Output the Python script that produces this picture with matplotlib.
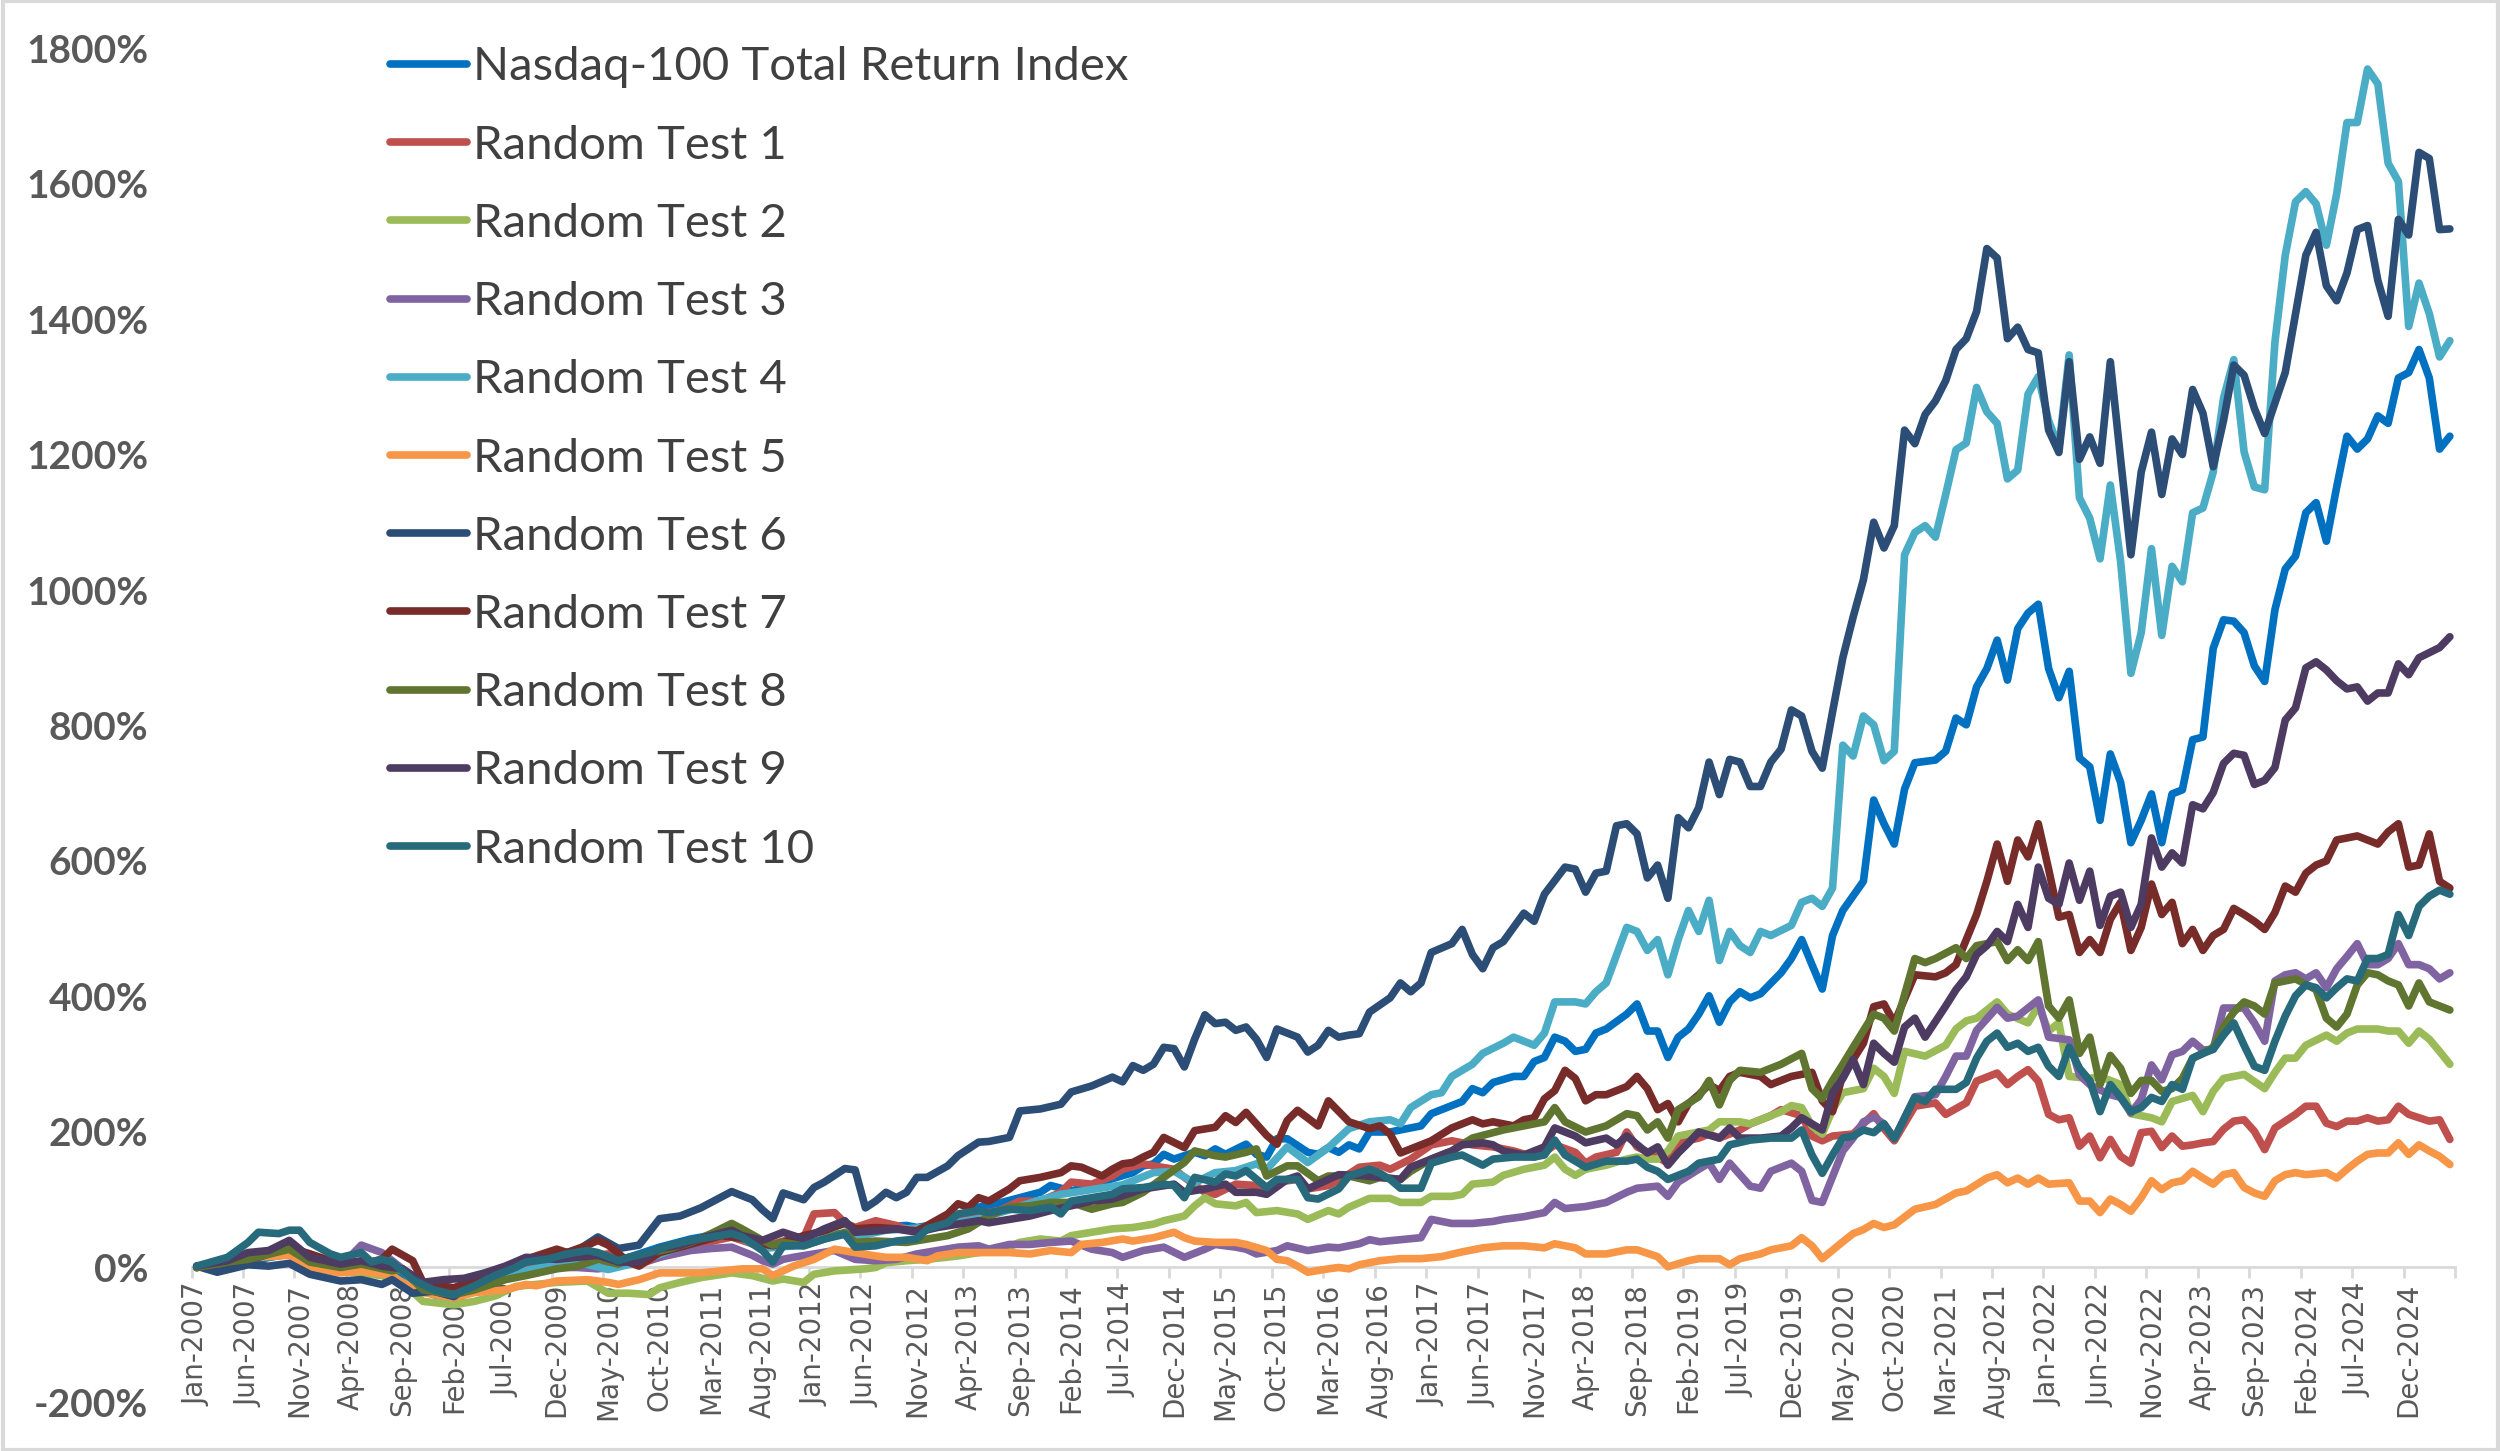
import numpy as np
import pandas as pd
import matplotlib
matplotlib.use("Agg")
import matplotlib.pyplot as plt
from matplotlib.patches import Rectangle

# month index = months since Jan-2007, value = cumulative return in %
nasdaq = [(0, 0), (3, 5), (6, 12), (9, 20), (10, 22), (12, 8), (14, 0), (17, 5), (19, -2), (21, -25), (23, -40),
          (25, -45), (27, -30), (30, -12), (33, 0), (35, 12), (38, 22), (40, 10), (42, 15), (45, 30), (48, 42),
          (51, 50), (54, 45), (56, 30), (59, 40), (61, 55), (63, 65), (65, 50), (67, 60), (69, 62), (70, 59),
          (72, 64), (74, 74), (76, 89), (78, 95), (80, 103), (82, 111), (83, 121), (85, 113), (87, 121), (89, 131),
          (91, 140), (92, 150), (93, 153), (94, 167), (95, 160), (97, 170), (98, 165), (99, 175), (100, 167),
          (102, 182), (103, 167), (104, 163), (105, 190), (106, 190), (108, 170), (109, 167), (110, 177), (111, 170),
          (112, 181), (113, 175), (114, 200), (116, 200), (117, 203), (119, 209), (120, 227), (122, 239), (123, 245),
          (124, 264), (125, 258), (126, 273), (128, 282), (129, 282), (130, 304), (131, 310), (132, 340), (133, 334),
          (134, 319), (135, 322), (136, 346), (137, 352), (139, 374), (140, 389), (141, 349), (142, 349), (143, 310),
          (144, 340), (145, 352), (146, 374), (147, 401), (148, 362), (149, 392), (150, 407), (151, 398), (152, 404),
          (154, 435), (155, 456), (156, 484), (157, 447), (158, 411), (159, 490), (160, 527), (162, 570), (163, 690),
          (164, 655), (165, 625), (166, 706), (167, 745), (169, 749), (170, 762), (171, 811), (172, 801), (173, 857),
          (174, 884), (175, 926), (176, 867), (177, 943), (178, 966), (179, 979), (180, 884), (181, 841), (182, 880),
          (183, 752), (184, 739), (185, 660), (186, 758), (187, 716), (188, 627), (189, 660), (190, 699), (191, 627),
          (192, 699), (193, 705), (194, 779), (195, 783), (196, 914), (197, 956), (198, 954), (199, 937), (200, 888),
          (201, 865), (202, 971), (203, 1031), (204, 1050), (205, 1114), (206, 1129), (207, 1072), (208, 1152),
          (209, 1227), (210, 1208), (211, 1223), (212, 1257), (213, 1246), (214, 1313), (215, 1321), (216, 1355),
          (217, 1313), (218, 1208), (219, 1227)]

rt1 = [(0, 0), (3, 10), (6, 15), (9, 25), (11, 15), (14, 5), (17, 8), (20, -2), (22, -30), (25, -35), (28, -20),
       (31, -5), (34, 5), (37, 15), (40, 20), (43, 5), (46, 20), (49, 35), (52, 45), (55, 30), (57, 39), (59, 44),
       (60, 79), (62, 81), (63, 66), (64, 59), (66, 69), (68, 62), (69, 57), (71, 59), (72, 66), (74, 76), (76, 79),
       (78, 84), (80, 98), (82, 98), (84, 111), (85, 126), (87, 123), (89, 135), (90, 145), (92, 153), (93, 150),
       (95, 145), (96, 133), (98, 111), (99, 108), (101, 123), (103, 121), (104, 113), (105, 126), (107, 130),
       (108, 116), (110, 121), (111, 128), (113, 148), (115, 151), (116, 145), (118, 160), (120, 181), (122, 187),
       (124, 181), (126, 178), (128, 172), (130, 163), (131, 170), (132, 181), (134, 170), (135, 154), (136, 163),
       (138, 170), (139, 200), (140, 178), (142, 163), (143, 154), (144, 184), (146, 191), (147, 197), (148, 191),
       (150, 203), (151, 212), (153, 224), (154, 233), (156, 224), (157, 194), (158, 187), (159, 194), (161, 197),
       (162, 212), (163, 227), (164, 205), (165, 187), (167, 238), (169, 243), (170, 226), (172, 243), (173, 275),
       (175, 287), (176, 270), (177, 282), (178, 292), (179, 275), (180, 226), (181, 218), (182, 221), (183, 179),
       (184, 194), (185, 162), (186, 189), (187, 164), (188, 154), (189, 199), (190, 201), (191, 177), (192, 194),
       (193, 179), (194, 181), (195, 184), (196, 186), (197, 204), (198, 216), (199, 218), (200, 201), (201, 174),
       (202, 206), (203, 216), (204, 226), (205, 238), (206, 238), (207, 213), (208, 208), (209, 216), (210, 216),
       (211, 221), (212, 216), (213, 218), (214, 238), (215, 226), (216, 221), (217, 216), (218, 218), (219, 189)]

rt2 = [(0, 0), (3, 12), (5, 15), (9, 25), (11, 8), (14, -5), (18, -12), (20, -22), (22, -50), (25, -55), (27, -50),
       (29, -42), (31, -28), (33, -25), (35, -22), (38, -20), (40, -38), (42, -38), (44, -40), (45, -30), (47, -22),
       (49, -15), (52, -8), (54, -12), (56, -20), (57, -17), (59, -22), (60, -10), (62, -5), (65, -2), (66, 0),
       (67, 7), (69, 10), (71, 12), (74, 17), (76, 22), (78, 25), (80, 37), (82, 42), (84, 39), (85, 47), (87, 52),
       (89, 57), (91, 59), (93, 64), (94, 69), (96, 76), (97, 91), (98, 103), (99, 94), (101, 91), (102, 96),
       (103, 81), (105, 84), (107, 79), (108, 71), (110, 84), (111, 79), (112, 89), (114, 102), (116, 102),
       (117, 96), (119, 96), (120, 105), (122, 105), (123, 108), (124, 123), (126, 126), (127, 136), (129, 145),
       (130, 148), (131, 151), (132, 163), (133, 145), (134, 136), (135, 145), (137, 151), (139, 160), (140, 163),
       (141, 160), (142, 160), (143, 172), (144, 194), (146, 200), (147, 203), (148, 215), (150, 215), (151, 212),
       (152, 218), (154, 230), (155, 239), (156, 236), (157, 209), (158, 197), (159, 233), (160, 258), (162, 264),
       (163, 294), (164, 282), (165, 257), (166, 319), (168, 312), (170, 328), (171, 352), (172, 364), (173, 368),
       (175, 392), (176, 374), (178, 361), (179, 386), (180, 349), (181, 361), (182, 282), (184, 279), (185, 282),
       (187, 270), (188, 227), (190, 221), (191, 215), (192, 245), (194, 254), (195, 230), (196, 260), (197, 279),
       (199, 285), (201, 264), (202, 288), (203, 309), (204, 309), (205, 328), (207, 343), (208, 334), (209, 346),
       (210, 352), (212, 352), (213, 349), (214, 349), (215, 331), (216, 349), (217, 337), (218, 319), (219, 300)]

rt3 = [(0, 0), (3, 8), (5, 15), (9, 27), (11, 20), (14, 2), (16, 33), (18, 22), (20, -2), (22, -22), (25, -33),
       (27, -18), (30, -8), (32, -5), (35, 0), (37, 0), (39, -2), (41, 2), (43, 8), (45, 15), (48, 25), (50, 28),
       (52, 30), (54, 18), (55, 10), (56, 5), (57, 12), (58, 15), (60, 20), (62, 25), (64, 12), (66, 10), (68, 12),
       (70, 20), (72, 25), (74, 30), (76, 32), (77, 27), (79, 34), (81, 34), (83, 37), (85, 39), (87, 27), (89, 22),
       (90, 15), (92, 25), (94, 30), (96, 15), (98, 27), (99, 34), (101, 30), (102, 27), (103, 20), (105, 25),
       (106, 32), (108, 25), (110, 30), (111, 29), (113, 35), (114, 41), (115, 38), (117, 41), (119, 44), (120, 71),
       (122, 65), (124, 65), (126, 68), (127, 71), (129, 75), (131, 81), (132, 96), (133, 87), (135, 90), (137, 96),
       (139, 111), (140, 117), (142, 120), (143, 105), (144, 126), (146, 145), (147, 154), (148, 130), (149, 154),
       (151, 120), (152, 117), (153, 142), (155, 154), (156, 142), (157, 99), (158, 96), (160, 172), (161, 191),
       (162, 215), (163, 222), (164, 212), (165, 190), (167, 252), (169, 255), (170, 282), (171, 312), (172, 312),
       (173, 350), (175, 384), (176, 368), (177, 371), (179, 395), (180, 340), (181, 338), (182, 336), (183, 284),
       (184, 270), (185, 262), (186, 255), (187, 251), (188, 228), (189, 248), (190, 299), (191, 277), (192, 314),
       (193, 319), (194, 334), (195, 321), (196, 322), (197, 383), (198, 383), (199, 383), (200, 361), (201, 334),
       (202, 423), (203, 432), (204, 435), (205, 426), (206, 435), (207, 413), (208, 441), (209, 459), (210, 478),
       (211, 447), (212, 447), (213, 456), (214, 478), (215, 447), (216, 447), (217, 441), (218, 426), (219, 435)]

rt4 = [(0, 0), (3, 8), (6, 20), (9, 28), (11, 12), (14, 3), (17, 5), (20, -5), (22, -35), (25, -45), (28, -25),
       (31, -8), (34, 2), (37, 8), (40, -3), (43, 8), (46, 25), (49, 40), (52, 50), (55, 28), (58, 32), (61, 55),
       (64, 45), (67, 55), (70, 58), (73, 64), (76, 72), (79, 85), (81, 95), (84, 108), (87, 115), (90, 122),
       (93, 140), (95, 142), (97, 125), (99, 140), (101, 143), (103, 153), (104, 145), (106, 178), (108, 155),
       (110, 177), (112, 205), (114, 215), (116, 218), (117, 212), (118, 236), (120, 255), (121, 258), (122, 282),
       (124, 300), (125, 316), (127, 331), (128, 340), (130, 328), (131, 346), (132, 392), (134, 392), (135, 389),
       (136, 407), (137, 420), (139, 502), (140, 496), (141, 468), (142, 484), (143, 432), (144, 484), (145, 527),
       (146, 496), (147, 542), (148, 453), (149, 496), (150, 475), (151, 465), (152, 496), (153, 490), (155, 505),
       (156, 539), (157, 545), (158, 533), (159, 560), (160, 771), (161, 755), (162, 814), (163, 801), (164, 748),
       (165, 762), (166, 1052), (167, 1085), (168, 1095), (169, 1078), (170, 1141), (171, 1207), (172, 1217),
       (173, 1299), (174, 1263), (175, 1246), (176, 1164), (177, 1177), (178, 1289), (179, 1315), (180, 1250),
       (181, 1210), (182, 1347), (183, 1136), (184, 1106), (185, 1046), (186, 1155), (187, 1042), (188, 877),
       (189, 937), (190, 1061), (191, 933), (192, 1035), (193, 1012), (194, 1114), (195, 1121), (196, 1174),
       (197, 1283), (198, 1340), (199, 1204), (200, 1152), (201, 1148), (202, 1366), (203, 1494), (204, 1573),
       (205, 1588), (206, 1570), (207, 1509), (208, 1585), (209, 1690), (210, 1690), (211, 1769), (212, 1747),
       (213, 1630), (214, 1603), (215, 1389), (216, 1453), (217, 1408), (218, 1344), (219, 1368)]

rt5 = [(0, 0), (2, 8), (6, 15), (9, 18), (11, 0), (14, -8), (16, -5), (19, -12), (20, -22), (22, -37), (25, -45),
       (27, -37), (30, -33), (32, -25), (33, -27), (35, -20), (38, -18), (40, -22), (41, -25), (43, -18), (45, -8),
       (47, -8), (49, -8), (51, -5), (53, -2), (55, -2), (56, -12), (58, 2), (60, 12), (62, 27), (64, 22), (66, 17),
       (67, 15), (69, 15), (71, 10), (72, 17), (74, 22), (77, 22), (79, 22), (81, 20), (83, 25), (85, 22), (86, 34),
       (88, 37), (90, 42), (91, 39), (93, 44), (95, 52), (96, 44), (97, 39), (99, 37), (101, 37), (102, 34),
       (104, 25), (105, 12), (106, 10), (107, 2), (108, -7), (110, -2), (111, 0), (112, -2), (113, 4), (115, 10),
       (117, 13), (119, 13), (121, 16), (123, 23), (125, 29), (127, 32), (129, 32), (131, 29), (132, 35), (134, 29),
       (135, 20), (137, 20), (139, 26), (140, 26), (142, 16), (143, 1), (145, 10), (146, 13), (148, 13), (149, 4),
       (150, 13), (152, 20), (153, 26), (155, 32), (156, 44), (157, 32), (158, 13), (160, 38), (161, 50), (162, 56),
       (163, 65), (164, 59), (165, 63), (167, 86), (169, 93), (171, 110), (172, 113), (174, 132), (175, 137),
       (176, 125), (177, 132), (178, 123), (179, 132), (180, 123), (182, 125), (183, 98), (184, 98), (185, 81),
       (186, 101), (187, 93), (188, 83), (189, 103), (190, 128), (191, 115), (192, 125), (193, 128), (194, 142),
       (195, 132), (196, 123), (197, 137), (198, 140), (199, 118), (200, 110), (201, 105), (202, 128), (203, 137),
       (204, 140), (205, 137), (207, 140), (208, 132), (209, 145), (210, 157), (211, 167), (212, 169), (213, 169),
       (214, 184), (215, 167), (216, 181), (217, 172), (218, 164), (219, 152)]

rt6 = [(0, 2), (2, -7), (5, 4), (7, 2), (9, 6), (11, -10), (14, -20), (16, -18), (18, -25), (19, -18), (21, -38),
       (23, -35), (25, -43), (27, -22), (30, -2), (32, 12), (35, 20), (37, 25), (39, 45), (41, 28), (43, 33),
       (45, 72), (47, 76), (49, 88), (51, 104), (52, 112), (54, 100), (55, 85), (56, 72), (57, 110), (59, 100),
       (60, 118), (61, 126), (63, 146), (64, 144), (65, 88), (66, 98), (67, 111), (68, 103), (69, 111), (70, 133),
       (71, 133), (73, 150), (74, 165), (76, 185), (77, 186), (79, 192), (80, 231), (82, 234), (84, 241), (85, 259),
       (87, 268), (89, 281), (90, 274), (91, 298), (92, 291), (93, 300), (94, 325), (95, 323), (96, 296), (97, 337),
       (98, 373), (99, 360), (100, 362), (101, 350), (102, 355), (103, 337), (104, 310), (105, 352), (107, 340),
       (108, 318), (109, 328), (110, 350), (111, 340), (112, 343), (113, 345), (114, 377), (116, 398), (117, 420),
       (118, 407), (119, 420), (120, 465), (122, 478), (123, 499), (124, 462), (125, 441), (126, 472), (127, 481),
       (128, 502), (129, 523), (130, 511), (131, 551), (133, 591), (134, 588), (135, 554), (136, 582), (137, 585),
       (138, 652), (139, 655), (140, 640), (141, 575), (142, 594), (143, 545), (144, 664), (145, 649), (146, 679),
       (147, 746), (148, 698), (149, 750), (150, 746), (151, 710), (152, 710), (153, 746), (154, 765), (155, 823),
       (156, 814), (157, 762), (158, 737), (159, 820), (160, 900), (161, 960), (162, 1015), (163, 1100), (164, 1062),
       (165, 1095), (166, 1236), (167, 1216), (168, 1259), (169, 1279), (170, 1309), (171, 1355), (172, 1371),
       (173, 1411), (174, 1504), (175, 1490), (176, 1371), (177, 1388), (178, 1355), (179, 1350), (180, 1236),
       (181, 1203), (182, 1337), (183, 1193), (184, 1226), (185, 1187), (186, 1337), (187, 1193), (188, 1052),
       (189, 1174), (190, 1233), (191, 1141), (192, 1223), (193, 1200), (194, 1296), (195, 1261), (196, 1182),
       (197, 1250), (198, 1332), (199, 1317), (200, 1268), (201, 1231), (202, 1276), (203, 1321), (205, 1494),
       (206, 1528), (207, 1449), (208, 1427), (209, 1468), (210, 1532), (211, 1538), (212, 1457), (213, 1404),
       (214, 1547), (215, 1524), (216, 1646), (217, 1637), (218, 1532), (219, 1533)]

rt7 = [(0, 0), (3, 8), (6, 15), (9, 30), (11, 20), (14, 5), (16, 5), (18, 12), (19, 27), (21, 10), (22, -22),
       (25, -30), (27, -18), (30, -2), (32, 12), (35, 27), (36, 22), (38, 33), (39, 40), (40, 33), (42, 8), (43, 2),
       (45, 22), (47, 30), (51, 47), (53, 43), (55, 35), (56, 32), (59, 47), (61, 54), (63, 66), (64, 57), (66, 59),
       (68, 57), (70, 54), (71, 62), (73, 79), (74, 94), (75, 89), (76, 103), (77, 98), (79, 116), (80, 128),
       (82, 133), (84, 140), (85, 150), (86, 148), (88, 135), (89, 145), (90, 153), (91, 155), (92, 163), (93, 170),
       (94, 192), (96, 177), (97, 202), (99, 207), (100, 224), (101, 214), (102, 229), (104, 195), (105, 182),
       (106, 217), (107, 232), (109, 209), (110, 246), (112, 215), (114, 205), (115, 209), (116, 197), (117, 169),
       (119, 181), (120, 187), (122, 206), (124, 218), (125, 212), (126, 215), (128, 209), (129, 218), (130, 221),
       (131, 249), (132, 261), (133, 291), (134, 279), (135, 246), (136, 255), (137, 255), (139, 267), (140, 282),
       (141, 264), (142, 233), (143, 242), (144, 215), (145, 242), (146, 255), (147, 270), (148, 261), (149, 282),
       (150, 288), (152, 282), (153, 270), (155, 282), (157, 288), (158, 246), (159, 230), (160, 285), (161, 307),
       (162, 331), (163, 385), (164, 389), (165, 361), (167, 432), (169, 429), (170, 435), (171, 447), (172, 484),
       (173, 521), (174, 570), (175, 625), (176, 570), (177, 631), (178, 606), (179, 655), (180, 588), (181, 517),
       (182, 521), (183, 465), (184, 484), (185, 465), (186, 514), (187, 539), (188, 468), (189, 502), (190, 566),
       (191, 521), (192, 539), (193, 478), (194, 499), (195, 468), (196, 490), (197, 499), (198, 530), (199, 521),
       (200, 511), (201, 499), (202, 524), (203, 563), (204, 554), (205, 582), (206, 594), (207, 600), (208, 631),
       (209, 634), (210, 637), (211, 631), (212, 625), (213, 643), (214, 655), (215, 591), (216, 594), (217, 640),
       (218, 570), (219, 560)]

rt8 = [(0, 0), (3, 8), (5, 12), (9, 27), (11, 8), (14, 0), (16, 5), (19, -5), (20, -2), (22, -33), (25, -40),
       (27, -33), (30, -18), (32, -12), (35, -2), (37, 2), (39, 12), (41, 5), (43, 18), (46, 28), (48, 37), (50, 50),
       (52, 65), (53, 57), (55, 40), (56, 33), (57, 37), (59, 32), (61, 42), (63, 52), (64, 37), (66, 39), (69, 37),
       (71, 42), (73, 47), (75, 57), (77, 76), (79, 89), (81, 91), (83, 96), (85, 96), (87, 86), (89, 94), (90, 96),
       (92, 111), (94, 133), (96, 155), (97, 172), (99, 165), (100, 163), (102, 170), (103, 175), (104, 135),
       (106, 150), (107, 150), (109, 128), (110, 135), (112, 135), (114, 128), (115, 133), (117, 130), (118, 142),
       (120, 160), (122, 172), (124, 191), (127, 203), (129, 209), (131, 215), (132, 236), (133, 215), (135, 200),
       (137, 209), (139, 227), (140, 224), (141, 203), (142, 215), (143, 191), (144, 233), (146, 252), (147, 276),
       (148, 240), (149, 276), (150, 291), (152, 288), (154, 300), (156, 316), (157, 264), (158, 249), (159, 276),
       (160, 300), (161, 325), (163, 374), (164, 368), (165, 349), (167, 456), (168, 450), (169, 456), (171, 472),
       (172, 456), (173, 475), (175, 481), (176, 453), (177, 469), (178, 453), (179, 481), (180, 386), (181, 368),
       (182, 395), (183, 316), (184, 340), (185, 270), (186, 313), (187, 294), (188, 257), (189, 276), (190, 276),
       (191, 260), (192, 264), (193, 279), (194, 309), (195, 316), (196, 325), (197, 355), (198, 377), (199, 392),
       (200, 386), (201, 374), (202, 420), (203, 423), (204, 426), (206, 410), (207, 368), (208, 355), (209, 374),
       (210, 417), (211, 435), (212, 432), (213, 423), (214, 417), (215, 386), (216, 420), (217, 392), (218, 386),
       (219, 380)]

rt9 = [(0, 2), (3, 10), (5, 22), (7, 25), (9, 40), (11, 15), (14, 5), (16, 10), (18, 2), (20, -2), (22, -22),
       (24, -18), (26, -16), (28, -8), (30, 2), (32, 15), (35, 12), (37, 15), (39, 18), (41, 8), (43, 8), (45, 28),
       (47, 33), (49, 43), (52, 55), (53, 47), (55, 40), (57, 52), (59, 42), (61, 57), (63, 69), (64, 52), (66, 54),
       (68, 57), (70, 52), (72, 59), (74, 64), (76, 69), (77, 66), (79, 71), (81, 76), (83, 84), (85, 91), (87, 98),
       (89, 101), (91, 111), (92, 116), (95, 123), (96, 111), (98, 116), (100, 123), (101, 111), (103, 111),
       (104, 108), (106, 130), (107, 135), (108, 116), (109, 123), (111, 137), (113, 136), (115, 133), (117, 130),
       (118, 148), (120, 160), (122, 172), (123, 181), (125, 184), (126, 181), (127, 172), (129, 166), (130, 172),
       (131, 178), (132, 206), (134, 194), (135, 184), (137, 191), (138, 181), (139, 194), (141, 169), (142, 178),
       (143, 151), (144, 169), (145, 184), (146, 200), (148, 191), (149, 206), (150, 191), (152, 191), (154, 194),
       (155, 206), (156, 221), (157, 212), (158, 203), (159, 258), (160, 279), (161, 307), (162, 270), (163, 331),
       (164, 316), (165, 303), (166, 355), (167, 368), (168, 340), (170, 386), (171, 410), (172, 429), (173, 462),
       (174, 475), (175, 496), (176, 481), (177, 536), (178, 502), (179, 591), (180, 545), (181, 536), (182, 597),
       (183, 542), (184, 585), (185, 505), (186, 548), (187, 554), (188, 502), (189, 536), (190, 634), (191, 591),
       (192, 612), (193, 597), (194, 683), (195, 677), (196, 701), (197, 744), (198, 759), (199, 756), (200, 713),
       (201, 719), (202, 738), (203, 808), (204, 826), (205, 885), (206, 894), (207, 882), (208, 866), (209, 854),
       (210, 857), (211, 836), (212, 848), (213, 848), (214, 891), (215, 875), (216, 900), (218, 915), (219, 931)]

rt10 = [(0, 2), (3, 15), (5, 37), (6, 52), (8, 50), (9, 55), (10, 55), (11, 37), (13, 20), (14, 15), (16, 22),
        (17, 8), (18, 12), (19, 8), (21, -18), (23, -33), (25, -40), (27, -27), (29, -12), (31, 0), (32, 8), (34, 12),
        (36, 20), (38, 25), (39, 22), (41, 10), (42, 15), (44, 22), (46, 33), (48, 40), (50, 45), (52, 50), (53, 45),
        (55, 25), (56, 8), (57, 32), (59, 32), (61, 42), (63, 49), (64, 30), (66, 32), (68, 39), (70, 42), (71, 57),
        (73, 66), (74, 79), (76, 84), (77, 81), (79, 86), (81, 84), (83, 89), (84, 79), (85, 98), (87, 103),
        (89, 108), (90, 116), (92, 118), (94, 123), (95, 121), (96, 103), (97, 133), (99, 126), (100, 138),
        (101, 135), (102, 143), (104, 118), (105, 130), (107, 130), (108, 103), (109, 101), (111, 116), (112, 135),
        (114, 145), (115, 139), (116, 130), (117, 117), (119, 117), (120, 154), (122, 163), (123, 166), (125, 151),
        (126, 160), (128, 163), (130, 163), (131, 166), (132, 188), (133, 166), (135, 148), (137, 157), (139, 157),
        (140, 160), (141, 148), (142, 142), (143, 130), (145, 142), (146, 154), (148, 160), (149, 181), (151, 188),
        (153, 191), (155, 191), (156, 203), (157, 166), (158, 139), (159, 166), (160, 191), (161, 194), (162, 203),
        (163, 199), (164, 212), (165, 190), (167, 251), (168, 245), (169, 263), (171, 263), (172, 273), (173, 309),
        (174, 334), (175, 346), (176, 325), (177, 331), (178, 319), (179, 325), (180, 297), (181, 282), (182, 325),
        (183, 294), (184, 276), (185, 230), (186, 270), (187, 251), (188, 230), (189, 236), (190, 251), (191, 245),
        (192, 270), (193, 263), (194, 309), (195, 316), (196, 322), (197, 343), (198, 361), (199, 328), (200, 297),
        (201, 291), (202, 334), (203, 371), (204, 401), (205, 417), (206, 413), (207, 398), (208, 413), (209, 426),
        (210, 423), (211, 456), (212, 456), (213, 462), (214, 521), (215, 490), (216, 533), (217, 548), (218, 557),
        (219, 551)]

series_names = ["Nasdaq-100 Total Return Index"] + [f"Random Test {i}" for i in range(1, 11)]
series_data = [nasdaq, rt1, rt2, rt3, rt4, rt5, rt6, rt7, rt8, rt9, rt10]
colors = ["#0070C0", "#C0504D", "#9BBB59", "#8064A2", "#4BACC6", "#F79646",
          "#2C4D75", "#772C2A", "#5F7530", "#4D3B62", "#276A7C"]

dates = pd.date_range("2007-01-01", periods=220, freq="MS")
month_labels = list(dates.strftime("%b-%Y"))
y_ticks = list(range(-200, 1801, 200))

grey = "#595959"
axis_grey = "#D9D9D9"

fig = plt.figure(figsize=(25, 14.51), dpi=100)
ax = fig.add_axes([0.0766, 0.0331, 0.9054, 0.9338])

for name, data, col in zip(series_names, series_data, colors):
    xs = [p[0] for p in data]
    ys = [p[1] for p in data]
    ax.plot(xs, ys, color=col, lw=5.5, label=name,
            solid_joinstyle="round", solid_capstyle="round")

ax.set_xlim(-0.5, len(dates) - 0.5)
ax.set_ylim(-200, 1800)

for s in ["left", "right", "top"]:
    ax.spines[s].set_visible(False)
ax.spines["bottom"].set_position(("data", 0))
ax.spines["bottom"].set_color(axis_grey)
ax.spines["bottom"].set_linewidth(2)
ax.spines["bottom"].set_zorder(0)

label_pos = list(range(0, len(dates), 5))
ax.set_xticks(label_pos)
ax.set_xticklabels([month_labels[i] for i in label_pos], rotation=90,
                   fontsize=20, color=grey, family="DejaVu Sans", va="top")
ax.set_xticks(np.arange(-0.5, len(dates), 5), minor=True)
ax.tick_params(axis="x", which="major", length=0, pad=11)
ax.tick_params(axis="x", which="minor", length=8, width=2, color=axis_grey, direction="out")

ax.set_yticks(y_ticks)
ax.set_yticklabels([f"{v}%" for v in y_ticks], fontsize=28, fontweight="bold",
                   color=grey, family="Lato")
ax.tick_params(axis="y", length=0, pad=31)

leg = fig.legend(loc="upper left", bbox_to_anchor=(0.156, 0.968), frameon=False,
                 prop={"family": "Lato", "size": 34}, handlelength=1.63, handletextpad=0.12,
                 labelspacing=0.767, borderpad=0, borderaxespad=0)
for t in leg.get_texts():
    t.set_color("#404040")

fig.patches.append(Rectangle((0.001, 0.001), 0.998, 0.998, transform=fig.transFigure,
                             fill=False, edgecolor=axis_grey, lw=3))

fig.savefig("out.png", dpi=100, facecolor="white")
